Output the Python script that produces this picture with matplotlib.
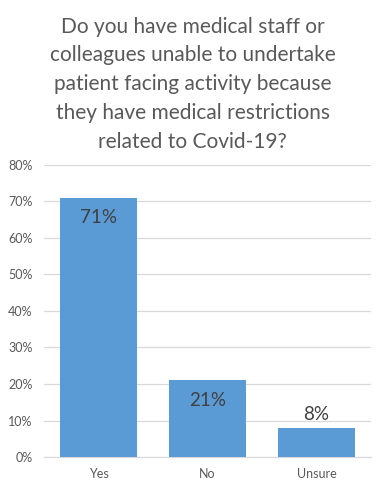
import matplotlib.pyplot as plt
from matplotlib.ticker import PercentFormatter

# data
categories = ["Yes", "No", "Unsure"]
values = [71, 21, 8]
labels = ["71%", "21%", "8%"]
title = ("Do you have medical staff or\ncolleagues unable to undertake\n"
         "patient facing activity because\nthey have medical restrictions\n"
         "related to Covid-19?")

plt.rcParams['font.family'] = ['Lato', 'DejaVu Sans']

fig = plt.figure(figsize=(3.85, 4.88), dpi=100)
ax = fig.add_axes([0.114, 0.0635, 0.85, 0.5985])

x = range(len(categories))
ax.bar(x, values, width=0.71, color="#5B9BD5", zorder=3)

for i, v in enumerate(values):
    if v > 15:
        ax.text(i, v - 3.2, labels[i], ha="center", va="top", fontsize=13.5, color="#404040", zorder=4)
    else:
        ax.text(i, v + 1.2, labels[i], ha="center", va="bottom", fontsize=13.5, color="#404040", zorder=4)

ax.set_ylim(0, 80)
ax.set_xlim(-0.5, 2.5)
ax.set_yticks(range(0, 81, 10))
ax.yaxis.set_major_formatter(PercentFormatter(decimals=0))
ax.set_xticks(list(x))
ax.set_xticklabels(categories)
ax.tick_params(axis="both", length=0, labelsize=9, labelcolor="#595959")
ax.tick_params(axis="y", pad=8)
ax.tick_params(axis="x", pad=8)
ax.grid(axis="y", color="#D9D9D9", linewidth=0.9, zorder=0)
for s in ["top", "right", "left"]:
    ax.spines[s].set_visible(False)
ax.spines["bottom"].set_color("#D9D9D9")

fig.text(0.5, 0.966, title, ha="center", va="top", fontsize=15, color="#595959", linespacing=1.55)

fig.savefig("out.png", dpi=100)
